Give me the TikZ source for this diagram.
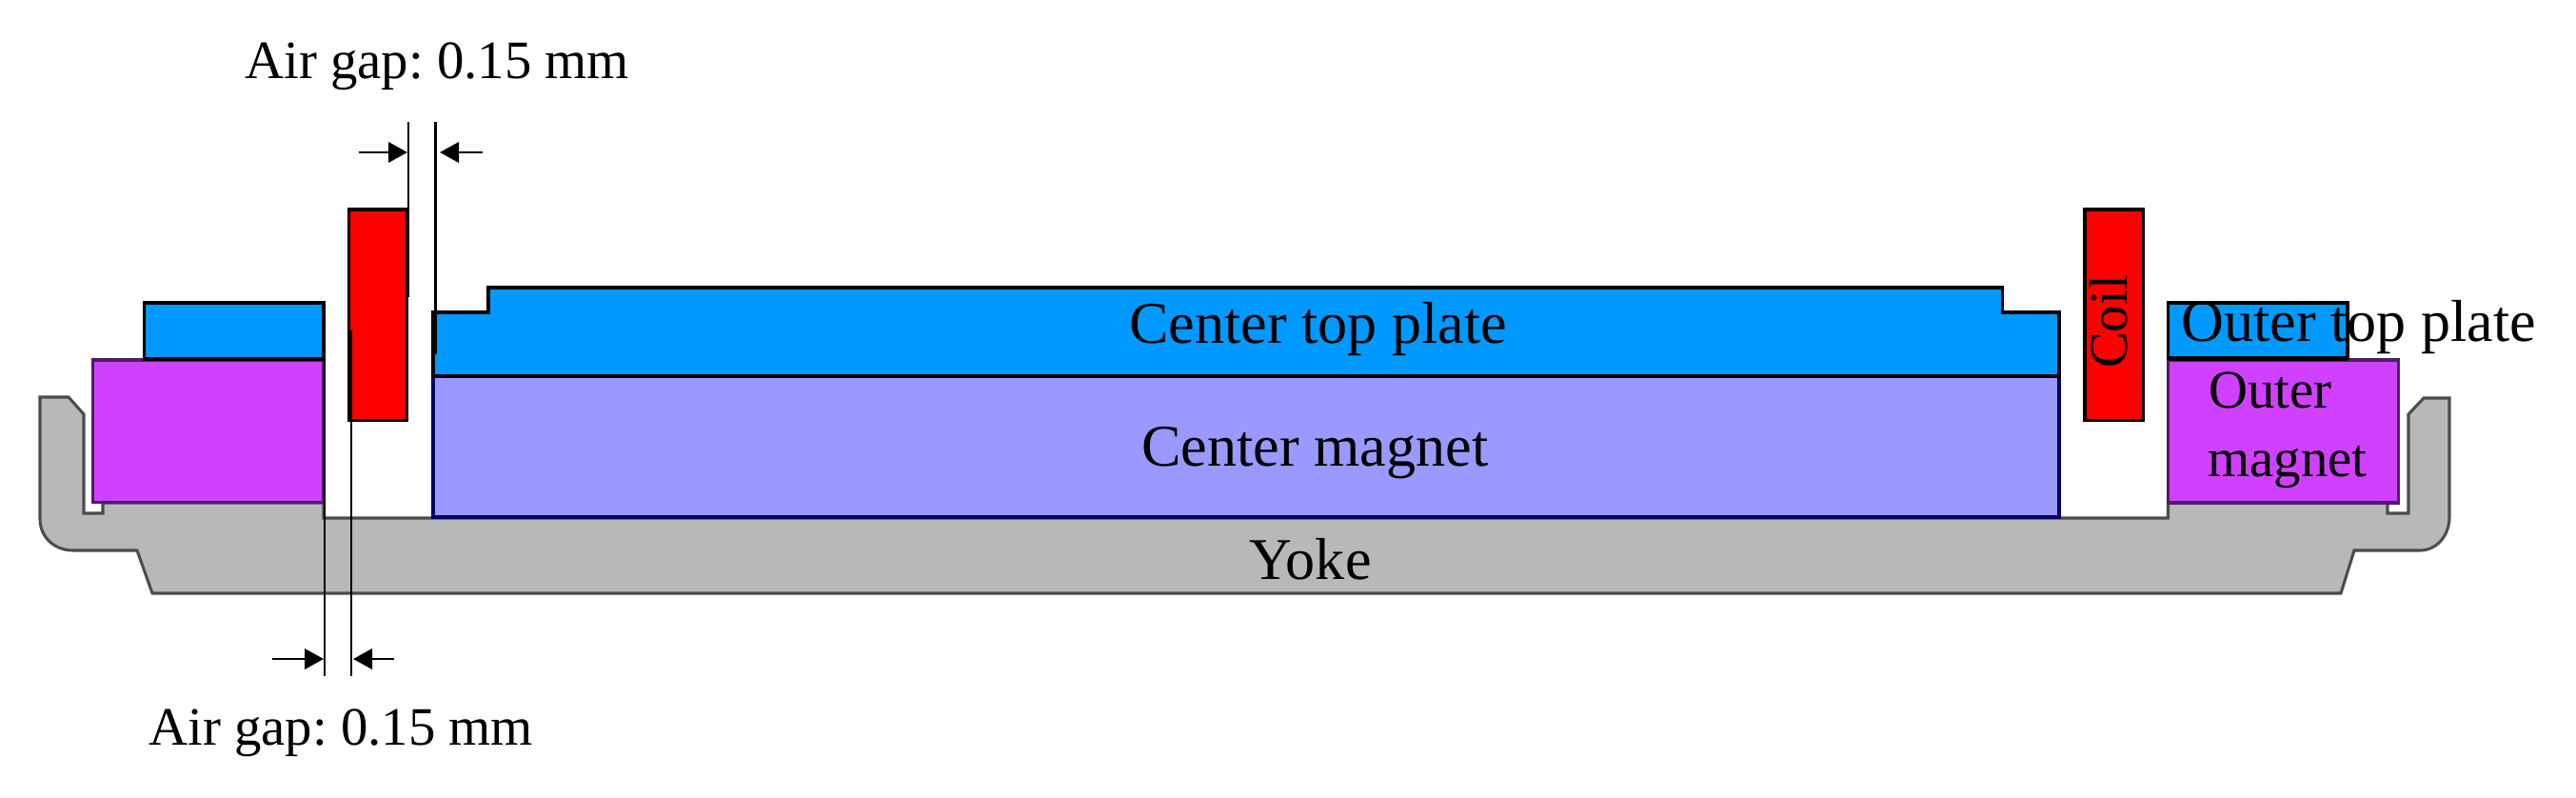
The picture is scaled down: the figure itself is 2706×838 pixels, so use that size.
\documentclass[tikz,border=0pt]{standalone}
\usepackage{fontspec}
\setmainfont{Liberation Serif}
\usetikzlibrary{arrows.meta}
\definecolor{plateblue}{RGB}{0,153,255}
\definecolor{outerpurple}{RGB}{208,64,255}
\definecolor{centerlav}{RGB}{153,153,255}
\definecolor{yokegray}{RGB}{184,184,184}
\tikzset{
  partline/.style={draw=black,line width=2.3pt,line join=miter},
  jointline/.style={draw=black,line width=3.2pt},
  gapline/.style={draw=black,line width=2pt},
  gaparrow/.style={draw=black,line width=2pt,-{Triangle[length=15pt,width=16pt]}},
  partlabel/.style={inner sep=0pt,anchor=base west,font=\fontsize{42.6pt}{48pt}\selectfont\frenchspacing},
  biglabel/.style={partlabel,font=\fontsize{46.6pt}{52pt}\selectfont},
}
\begin{document}
\begin{tikzpicture}[x=0.75pt,y=0.75pt,yscale=-1,xscale=1]
  \useasboundingbox (0,0) rectangle (2706,838);
  %Yoke
  \draw [partline,draw=black!70,fill=yokegray] (42,417) -- (72,417) -- (88,435) -- (88,539) -- (108,539) -- (108,528) -- (340,528) -- (340,544) -- (2277.5,544) -- (2277.5,528) -- (2508,528) -- (2508,539) -- (2530,539) -- (2530,435) -- (2546,418) -- (2573,418) -- (2573,543) .. controls (2573,562) and (2560,578) .. (2542,578) -- (2473,578) -- (2459,623) -- (160,623) -- (144,578) -- (77,578) .. controls (57,578) and (42,564) .. (42,545) -- cycle;
  %Magnets
  \draw [partline,draw=black!60!outerpurple,fill=outerpurple] (97.7,378) rectangle (340,527.7);
  \draw [partline,draw=black!60!outerpurple,fill=outerpurple] (2277.5,378) rectangle (2519.4,528);
  \draw [partline,draw=black!60!blue,fill=centerlav] (455,395) rectangle (2163,543);
  %Top plates
  \draw [partline,fill=plateblue] (151.5,318) rectangle (340,377);
  \draw [partline,fill=plateblue] (2277.5,318) rectangle (2466,376);
  \draw [partline,fill=plateblue] (455,395) -- (455,328) -- (513,328) -- (513,302) -- (2103.7,302) -- (2103.7,328) -- (2163,328) -- (2163,395) -- cycle;
  \draw [jointline] (455,395) -- (2163,395);
  \draw [jointline] (151.5,377) -- (340,377);
  \draw [jointline] (2277.5,377) -- (2466,377);
  %Coils
  \draw [partline,fill=red] (366.5,220) rectangle (427.5,441.7);
  \draw [partline,fill=red] (2190,220) rectangle (2251.6,441.7);

  %Air gap lines, top
  \coordinate (gapTopA) at (429,128);
  \coordinate (gapTopAend) at (429,312);
  \coordinate (gapTopB) at (457.5,128);
  \coordinate (gapTopBend) at (457.5,372);
  \coordinate (arrowTopAstart) at (377,160);
  \coordinate (arrowTopAtip) at (428,160);
  \coordinate (arrowTopBstart) at (507,160);
  \coordinate (arrowTopBtip) at (462,160);
  \draw [gapline] (gapTopA) -- (gapTopAend);
  \draw [gapline] (gapTopB) -- (gapTopBend);
  \draw [gaparrow] (arrowTopAstart) -- (arrowTopAtip);
  \draw [gaparrow] (arrowTopBstart) -- (arrowTopBtip);
  %Air gap lines, bottom
  \coordinate (gapBotA) at (341,318);
  \coordinate (gapBotAend) at (341,710);
  \coordinate (gapBotB) at (369,347);
  \coordinate (gapBotBend) at (369,710);
  \coordinate (arrowBotAstart) at (286,692);
  \coordinate (arrowBotAtip) at (340,692);
  \coordinate (arrowBotBstart) at (414,692);
  \coordinate (arrowBotBtip) at (371,692);
  \draw [gapline] (gapBotA) -- (gapBotAend);
  \draw [gapline] (gapBotB) -- (gapBotBend);
  \draw [gaparrow] (arrowBotAstart) -- (arrowBotAtip);
  \draw [gaparrow] (arrowBotBstart) -- (arrowBotBtip);

  % Text Node
  \draw (257,83) node (gapTopText) [partlabel] {Air gap: 0.15 mm};
  % Text Node
  \draw (156,782) node (gapBotText) [partlabel] {Air gap: 0.15 mm};
  % Text Node
  \draw (1186,360) node (centerPlateText) [biglabel] {Center top plate};
  % Text Node
  \draw (1199,489) node (centerMagnetText) [biglabel] {Center magnet};
  % Text Node
  \draw (1312,608) node (yokeText) [biglabel] {Yoke};
  % Text Node
  \draw (2291,358) node (outerPlateText) [biglabel] {Outer top plate};
  % Text Node
  \draw (2320,428) node (outerText) [partlabel] {Outer};
  % Text Node
  \draw (2319,500) node (magnetText) [partlabel] {magnet};
  % Text Node
  \draw (2234,338) node (coilText) [partlabel,anchor=base,rotate=90] {Coil};
\end{tikzpicture}
\end{document}
